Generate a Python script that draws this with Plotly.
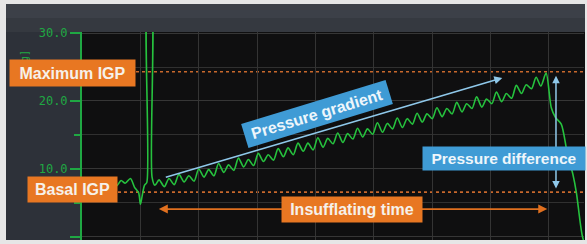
import plotly.graph_objects as go

# ---- data ----
time_s = [0, 0.6, 1.3, 2.1, 2.8, 3.7, 4.3, 5.2, 5.9, 6.7, 7.4, 8.3, 9.0, 9.7, 10.0, 10.3, 10.7,
          11.1, 11.3, 11.8, 12.0, 12.5, 13.2,
          14.1, 14.9, 15.8, 16.6, 17.5, 18.3, 19.2, 20.0, 20.9, 21.7, 22.6, 23.4, 24.3, 25.1,
          26.0, 26.8, 27.7, 28.5, 29.4, 30.2, 31.1, 31.9, 32.8, 33.6, 34.5, 35.3, 36.2, 37.0,
          37.9, 38.7, 39.6, 40.4, 41.3, 42.1, 43.0, 43.8, 44.7, 45.5, 46.4, 47.2, 48.1, 48.9,
          49.8, 50.6, 51.5, 52.3, 53.2, 54.0, 54.9, 55.7, 56.6, 57.4, 58.3, 59.1, 60.0, 60.8,
          61.7, 62.5, 63.4, 64.2, 65.1, 65.9, 66.8, 67.6, 68.5, 69.3, 70.2, 71.0, 71.9, 72.7,
          73.6, 74.4, 75.3, 76.1, 77.0, 77.8, 78.6, 79.5,
          80.4, 81.1, 82.1, 83.1, 84.1, 84.7, 85.7, 86.5]
pressure = [8.0, 8.6, 7.7, 8.4, 7.6, 8.5, 7.8, 8.6, 7.5, 8.3, 7.9, 8.6, 7.3, 6.5, 4.8, 6.0, 7.6,
            8.0, 36.0, 36.0, 8.8, 7.6, 8.4,
            7.4, 8.6, 7.7, 9.2, 8.1, 9.0, 8.2, 10.0, 8.8, 9.9, 9.0, 10.8, 9.5, 10.6,
            9.8, 11.6, 10.3, 11.4, 10.5, 12.3, 11.1, 12.1, 11.3, 13.0, 11.8, 13.1, 12.1, 13.8,
            12.6, 13.8, 12.8, 14.6, 13.2, 14.5, 13.7, 15.3, 13.9, 15.2, 14.4, 16.0, 14.7, 15.9,
            15.1, 16.8, 15.4, 16.7, 15.9, 17.5, 16.1, 17.4, 16.6, 18.2, 16.9, 18.1, 17.4, 19.0,
            17.7, 18.9, 18.1, 19.8, 18.4, 19.6, 18.9, 20.6, 19.1, 20.3, 19.6, 21.3, 19.9, 21.1,
            20.4, 22.3, 21.1, 22.4, 21.8, 23.5, 22.2, 24.1,
            19.0, 17.6, 16.6, 12.5, 9.2, 6.5, 0.2, -2.0]

BASAL_IGP = 6.6
MAX_IGP = 24.3
INSUFF_START = 12.9
INSUFF_END = 79.7
GRAD_START = (14.1, 8.7)
GRAD_END = (72.0, 23.4)
DIFF_T = 81.2
Y_TICK_FORMAT = ".1f"
Y_TITLE = "[mmHg]"

GREEN = "#26c23e"
AXGREEN = "#1fa843"
ORANGE = "#e87722"
BLUE = "#3f9bd5"
LIGHTBLUE = "#8fc8ea"

W, H = 587, 244
L, R, T, B = 82, 3, 32, 4
PW, PH = W - L - R, H - T - B


def px(x):
    return (x - L) / PW


def py(y):
    return (H - B - y) / PH


fig = go.Figure()
fig.add_trace(go.Scatter(x=time_s, y=pressure, mode="lines",
                         line=dict(color=GREEN, width=1.6, shape="spline", smoothing=0.8),
                         hoverinfo="skip"))

shapes = [
    # dark instrument frame
    dict(type="rect", xref="paper", yref="paper", x0=px(6), x1=px(585), y0=py(240), y1=py(4),
         fillcolor="#2d3139", line=dict(width=0), layer="below"),
    dict(type="rect", xref="paper", yref="paper", x0=px(6), x1=px(585), y0=py(32), y1=py(4),
         fillcolor="#353940", line=dict(width=0), layer="below"),
    dict(type="rect", xref="paper", yref="paper", x0=px(6), x1=px(585), y0=py(18), y1=py(4),
         fillcolor="#3c4048", line=dict(width=0), layer="below"),
    dict(type="rect", xref="paper", yref="paper", x0=0, x1=px(585), y0=0, y1=1,
         fillcolor="#0f0f10", line=dict(width=0), layer="below"),
    # dotted reference levels
    dict(type="line", xref="paper", yref="y", x0=0, x1=1, y0=MAX_IGP, y1=MAX_IGP,
         line=dict(color="#c8682c", width=1.6, dash="dot"), layer="below"),
    dict(type="line", xref="paper", yref="y", x0=0, x1=1, y0=BASAL_IGP, y1=BASAL_IGP,
         line=dict(color="#c8682c", width=1.6, dash="dot"), layer="below"),
]

lab_font = dict(family="Liberation Sans, Arial", size=16, color="#f6f1ea")
C = dict(xanchor="center", yanchor="middle", xref="paper", yref="paper", showarrow=False,
         borderpad=0)
ann = [
    dict(x=px(24), y=py(68), text=Y_TITLE, textangle=-90,
         font=dict(family="DejaVu Sans Mono", size=10, color=AXGREEN), **C),
    # arrows
    dict(x=GRAD_END[0], y=GRAD_END[1], ax=GRAD_START[0], ay=GRAD_START[1], xref="x", yref="y",
         axref="x", ayref="y", text="", showarrow=True, arrowhead=2, arrowsize=1.0,
         arrowwidth=1.6, arrowcolor=LIGHTBLUE),
    dict(x=DIFF_T, y=MAX_IGP - 0.6, ax=DIFF_T, ay=BASAL_IGP + 0.3, xref="x", yref="y",
         axref="x", ayref="y", text="", showarrow=True, arrowhead=2, startarrowhead=2,
         arrowside="end+start", arrowsize=1.0, arrowwidth=1.5, arrowcolor=LIGHTBLUE),
    dict(x=INSUFF_END, y=4.1, ax=INSUFF_START, ay=4.1, xref="x", yref="y",
         axref="x", ayref="y", text="", showarrow=True, arrowhead=2, startarrowhead=2,
         arrowside="end+start", arrowsize=1.0, arrowwidth=1.8, arrowcolor="#e0701f"),
    # labels
    dict(x=px(72.5), y=py(73), text="<b>Maximum IGP</b>",
         bgcolor=ORANGE, width=125, height=26, font=lab_font, **C),
    dict(x=px(72.5), y=py(189.5), text="<b>Basal IGP</b>",
         bgcolor=ORANGE, width=89, height=25, font=lab_font, **C),
    dict(x=px(352), y=py(209.5), text="<b>Insufflating time</b>",
         bgcolor=ORANGE, width=140, height=25, font=lab_font, **C),
    dict(x=px(504), y=py(158.5), text="<b>Pressure difference</b>",
         bgcolor=BLUE, width=162, height=23,
         font=dict(family="Liberation Sans, Arial", size=15.5, color="#eef6fb"), **C),
    dict(x=px(317), y=py(114), text="<b>Pressure gradient</b>",
         bgcolor=BLUE, width=150, height=24, textangle=-17,
         font=dict(family="Liberation Sans, Arial", size=16, color="#eef6fb"), **C),
]

fig.update_layout(
    width=W, height=H, margin=dict(l=L, r=R, t=T, b=B),
    paper_bgcolor="#e6e6e6", plot_bgcolor="rgba(0,0,0,0)",
    showlegend=False, shapes=shapes, annotations=ann,
    xaxis=dict(range=[0, 86], tick0=0, dtick=10, showticklabels=False, ticks="",
               showgrid=True, gridcolor="#343434", gridwidth=1, zeroline=False,
               showline=False, fixedrange=True),
    yaxis=dict(range=[-0.45, 30.15], tick0=0, dtick=10, tickformat=Y_TICK_FORMAT,
               ticks="outside", ticklen=10, tickwidth=1.5, tickcolor=AXGREEN,
               tickfont=dict(family="DejaVu Sans Mono", size=12, color=AXGREEN),
               showline=True, linecolor=AXGREEN, linewidth=2,
               showgrid=True, gridcolor="#363636", gridwidth=1, zeroline=False,
               minor=dict(tick0=0, dtick=5, ticks="outside", ticklen=6, tickcolor=AXGREEN,
                          showgrid=True, gridcolor="#303030"),
               fixedrange=True),
)

fig.write_html("out.html", config={"displayModeBar": False},
               post_script="document.body.style.margin='0';document.body.style.overflow='hidden';")
